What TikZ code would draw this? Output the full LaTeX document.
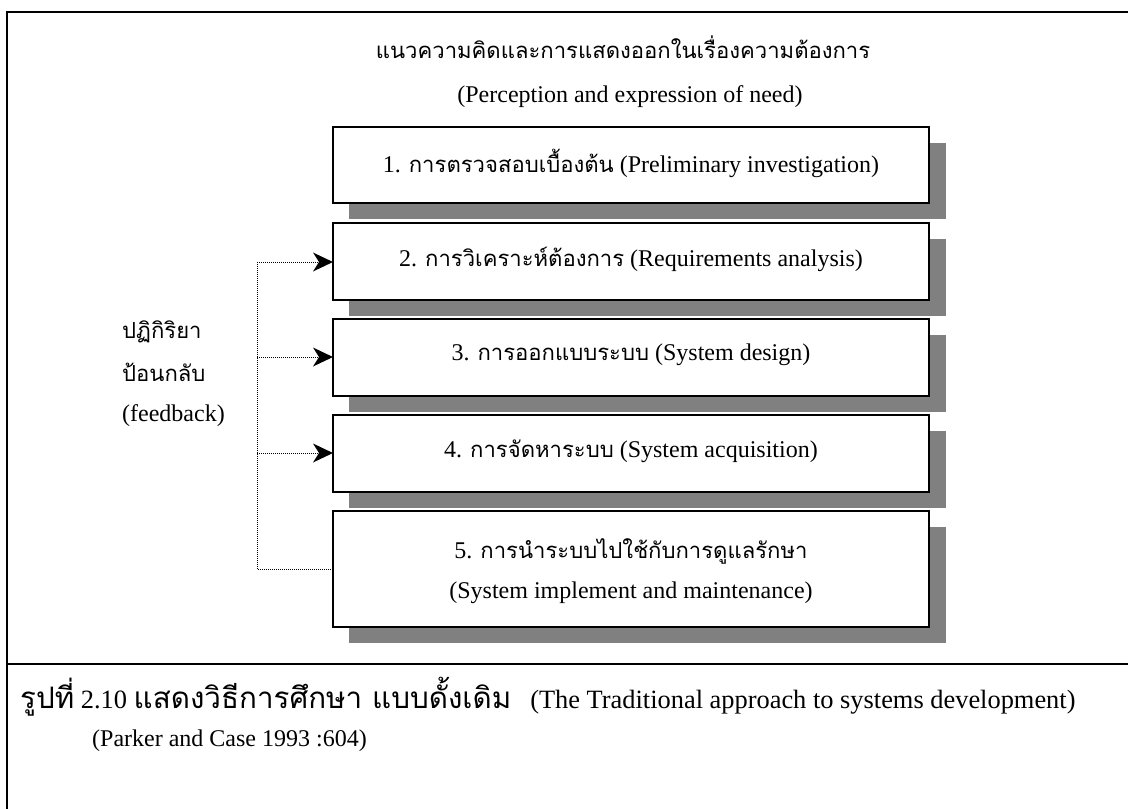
\documentclass[tikz,border=0pt]{standalone}
\usepackage{fontspec}
\setmainfont{Liberation Serif}
\newfontfamily\thaifont[Script=Thai,Scale=0.92]{Loma}
\newfontfamily\thaicap[Script=Thai,Scale=1.12]{Loma}
\newcommand\thx[1]{{\thaifont #1}}
\newcommand\thcap[1]{{\thaicap #1}}
\usetikzlibrary{arrows.meta}
\begin{document}
\begin{tikzpicture}[x=1pt,y=-1pt,
  txt/.style={font=\fontsize{24}{28}\selectfont, inner sep=0pt},
  captxt/.style={font=\fontsize{26.4}{30}\selectfont, inner sep=0pt},
  stagebox/.style={draw=black, line width=1.5pt, fill=white},
  shade/.style={fill=black!50, draw=none},
  fb/.style={line width=1pt, dash pattern=on 1pt off 1pt},
  fbarrow/.style={fb, -{Stealth[length=20pt,width=19pt,inset=6pt,line width=0pt]}}]
\useasboundingbox (0,0) rectangle (1128,809);
\fill[white] (0,0) rectangle (1128,809);

% outer frame and caption separator
\draw[line width=2pt] (7,809) -- (7,12) -- (1128,12);
\draw[line width=2pt] (7,664) -- (1128,664);

% heading
\node[txt] (head) at (623,47) {\thx{แนวความคิดและการแสดงออกในเรื่องความต้องการ}};
\node[txt] (headen) at (630,97) {(Perception and expression of need)};

% stage boxes with drop shadows
\foreach \t/\b in {127/203, 223/300, 319/396, 415/492, 511/627}{
  \fill[shade] (349,\t+16) rectangle (946,\b+16);
}
\draw[stagebox] (333,127) rectangle (929,203);
\draw[stagebox] (333,223) rectangle (929,300);
\draw[stagebox] (333,319) rectangle (929,396);
\draw[stagebox] (333,415) rectangle (929,492);
\draw[stagebox] (333,511) rectangle (929,627);
\coordinate (b1) at (333,165);
\coordinate (b2) at (333,262);
\coordinate (b3) at (333,357);
\coordinate (b4) at (333,453);
\coordinate (b5) at (333,569);

\node[txt] (s1) at (631,163) {1. \thx{การตรวจสอบเบื้องต้น} (Preliminary investigation)};
\node[txt] (s2) at (631,259) {2. \thx{การวิเคราะห์ต้องการ} (Requirements analysis)};
\node[txt] (s3) at (631,355) {3. \thx{การออกแบบระบบ} (System design)};
\node[txt] (s4) at (631,451) {4. \thx{การจัดหาระบบ} (System acquisition)};
\node[txt] (s5a) at (631,551) {5. \thx{การนำระบบไปใช้กับการดูแลรักษา}};
\node[txt] (s5b) at (631,593) {(System implement and maintenance)};

% feedback loop
\node[txt, anchor=west] (fb1) at (122,332) {\thx{ปฏิกิริยา}};
\node[txt, anchor=west] (fb2) at (122,372) {\thx{ป้อนกลับ}};
\node[txt, anchor=west] (fb3) at (122,416) {(feedback)};
\coordinate (v2) at (257,262);
\coordinate (v3) at (257,357);
\coordinate (v4) at (257,453);
\coordinate (v5) at (257,569);
\draw[fb] (b5) -- (v5) -- (v2);
\draw[fbarrow] (v2) -- (b2);
\draw[fbarrow] (v3) -- (b3);
\draw[fbarrow] (v4) -- (b4);

% caption
\node[captxt, anchor=west] (cap) at (20,697) {\thcap{รูปที่} 2.10 \thcap{แสดงวิธีการศึกษา แบบดั้งเดิม}\hspace{19pt}(The Traditional approach to systems development)};
\node[txt, anchor=west] (src) at (92,741) {(Parker and Case 1993 :604)};
\end{tikzpicture}
\end{document}
